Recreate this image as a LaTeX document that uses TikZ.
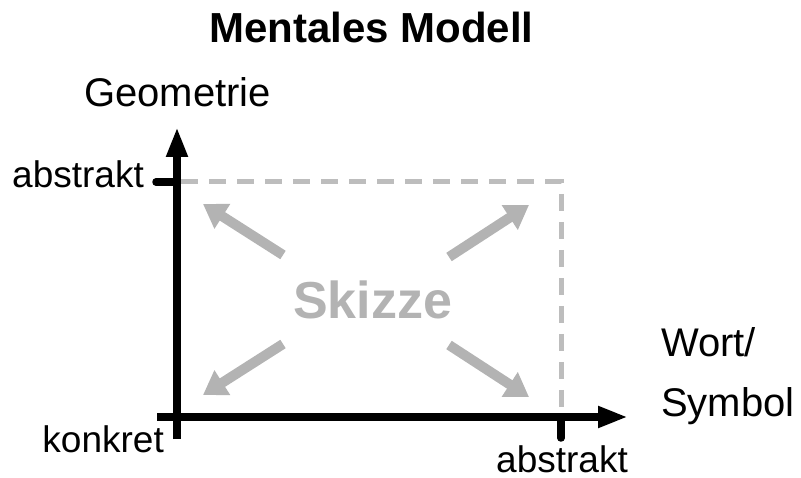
\documentclass[tikz,border=0pt]{standalone}
\usepackage{fontspec}
\setmainfont{Liberation Sans}
\usetikzlibrary{arrows.meta}
\definecolor{SketchGray}{HTML}{B3B3B3}
\definecolor{FrameGray}{HTML}{BDBDBD}

\begin{document}
\begin{tikzpicture}[x=1pt,y=-1pt]
  \tikzset{
    axis/.style={line width=7.5pt, -{Triangle[length=30pt,width=20pt]}},
    tickmark/.style={line width=7.5pt, line cap=round},
    frame/.style={line width=5pt, FrameGray, dash pattern=on 17pt off 11pt},
    spread/.style={line width=10pt, SketchGray, -{Triangle[length=23pt,width=28pt]}},
    titletext/.style={font=\bfseries\fontsize{42}{50}\selectfont, inner sep=0pt},
    axistitle/.style={font=\fontsize{40}{60}\selectfont, inner sep=0pt},
    valuetext/.style={font=\fontsize{37}{44}\selectfont, inner sep=0pt, text depth=0pt},
    sketchtext/.style={font=\bfseries\fontsize{52}{60}\selectfont, text=SketchGray, inner sep=0pt}
  }
  \useasboundingbox (0,0) rectangle (801,478);

  % labels
  \node[titletext, anchor=base] (title) at (371.5,43) {Mentales Modell};
  \node[axistitle, anchor=base] (ytitle) at (177.5,107) {Geometrie};
  \node[axistitle, anchor=base west, align=left] (xtitle) at (661,417) {Wort/\\Symbol};
  \node[valuetext, anchor=base east] (yabstract) at (144,188) {abstrakt};
  \node[valuetext, anchor=base east] (concrete) at (164,453) {konkret};
  \node[valuetext, anchor=base] (xabstract) at (562,472) {abstrakt};
  \node[sketchtext, anchor=base] (sketch) at (372.5,319) {Skizze};

  % axes
  \coordinate (ybottom) at (177,439);
  \coordinate (ytop) at (177,127);
  \coordinate (xleft) at (157,417);
  \coordinate (xright) at (628,417);
  \coordinate (ymark) at (177,182);
  \coordinate (xmark) at (561,417);
  \coordinate (ymarkend) at (156,182);
  \coordinate (xmarkend) at (561,438);
  \coordinate (framestart) at (181,182);
  \coordinate (framecorner) at (561,182);

  \draw[axis] (ybottom) -- (ytop);
  \draw[axis] (xleft) -- (xright);
  \draw[tickmark] (ymarkend) -- (ymark);
  \draw[tickmark] (xmark) -- (xmarkend);
  \draw[frame] (framestart) -- (framecorner) -- (xmark);

  % arrows around the sketch
  \coordinate (ultail) at (283,255);
  \coordinate (urtail) at (449,257);
  \coordinate (lltail) at (283,344);
  \coordinate (lrtail) at (449,345);
  \coordinate (ultip) at (203,204);
  \coordinate (urtip) at (529,205);
  \coordinate (lltip) at (203,395);
  \coordinate (lrtip) at (529,397);

  \draw[spread] (ultail) -- (ultip);
  \draw[spread] (urtail) -- (urtip);
  \draw[spread] (lltail) -- (lltip);
  \draw[spread] (lrtail) -- (lrtip);
\end{tikzpicture}
\end{document}
